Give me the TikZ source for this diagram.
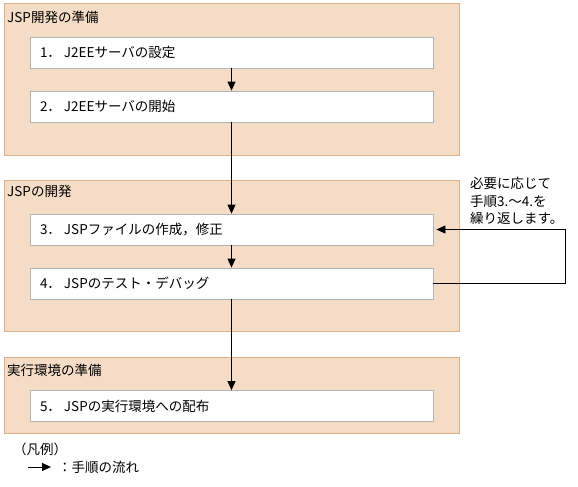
\documentclass[tikz,border=0pt]{standalone}
\usepackage{fontspec}
\setmainfont{Noto Sans CJK JP}
\usetikzlibrary{arrows.meta,calc,positioning}
\definecolor{peach}{HTML}{F4DCC6}
\definecolor{peachline}{HTML}{DDB089}
\definecolor{boxline}{HTML}{B4B4B4}

\begin{document}
\begin{tikzpicture}[x=1pt,y=-1pt,>={Triangle[length=9pt,width=8pt]},
    phase/.style={draw=peachline,fill=peach,line width=0.8pt,minimum width=455,inner sep=0pt,anchor=north west},
    phasetitle/.style={anchor=west,inner sep=0pt,font=\fontsize{13.5}{16}\selectfont},
    stepbox/.style={draw=boxline,fill=white,line width=0.8pt,minimum height=31,text width=383,inner xsep=10pt,inner ysep=0pt,align=left,font=\fontsize{13.5}{16}\selectfont},
    flow/.style={->,line width=0.8pt}]
  \useasboundingbox (0,0) rectangle (578,487);
  % phases
  \node[phase,minimum height=152] (prep) at (4,3) {};
  \node[phase,minimum height=151] (dev) at (4,180) {};
  \node[phase,minimum height=76] (env) at (4,357) {};
  \node[phasetitle] (prept) at (7,17) {JSP開発の準備};
  \node[phasetitle] (devt) at (7,191) {JSPの開発};
  \node[phasetitle] (envt) at (7,370) {実行環境の準備};
  % steps
  \node[stepbox] (s1) at (231.5,52.5) {1．\hspace{3pt}J2EEサーバの設定};
  \node[stepbox] (s2) at (231.5,106.5) {2．\hspace{3pt}J2EEサーバの開始};
  \node[stepbox] (s3) at (231.5,229.5) {3．\hspace{3pt}JSPファイルの作成，修正};
  \node[stepbox] (s4) at (231.5,283.5) {4．\hspace{3pt}JSPのテスト・デバッグ};
  \node[stepbox] (s5) at (231.5,406) {5．\hspace{3pt}JSPの実行環境への配布};
  \draw[flow] (s1) -- (s2);
  \draw[flow] (s2) -- (s3);
  \draw[flow] (s3) -- (s4);
  \draw[flow] (s4) -- (s5);
  % repeat loop
  \coordinate (turn) at (565,0);
  \draw[flow] (s4.east) -- (s4.east -| turn) -- (s3.east -| turn) -- ([xshift=3pt]s3.east);
  \node[anchor=north west,inner sep=0pt,align=left,font=\fontsize{13.5}{17.5}\selectfont] (note) at (470,177) {必要に応じて\\手順3.～4.を\\繰り返します。};
  % legend
  \node[anchor=west,inner sep=0pt,font=\fontsize{13.5}{16}\selectfont] (legt) at (13,449) {（凡例）};
  \coordinate (lega) at (28,467);
  \node[anchor=west,inner sep=0pt,font=\fontsize{13.5}{16}\selectfont] (legd) at (58,467) {：手順の流れ};
  \draw[flow] (lega) -- ([xshift=-7pt]legd.west);
\end{tikzpicture}
\end{document}
